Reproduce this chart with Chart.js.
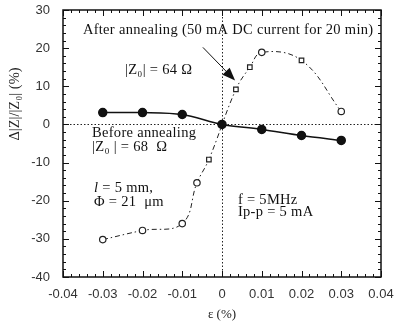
<!DOCTYPE html>
<html>
<head>
<meta charset="utf-8">
<script src="https://cdn.jsdelivr.net/npm/chart.js@4/dist/chart.umd.min.js"></script>
<style>
html,body{margin:0;padding:0;background:#fff;}
#wrap{width:400px;height:322px;}
</style>
</head>
<body>
<div id="wrap"><canvas id="c" width="400" height="322"></canvas></div>
<script>
// ---- data ----
const strainBefore = [-0.03, -0.02, -0.01, 0, 0.01, 0.02, 0.03];
const zBefore      = [3.1, 3.1, 2.6, 0, -1.3, -2.9, -4.2];

const strainAfter  = [-0.03, -0.02, -0.01, -0.0063, -0.0033, 0.0035, 0.007, 0.01, 0.02, 0.03];
const zAfter       = [-30.2, -27.8, -26.0, -15.3, -9.2, 9.2, 15.0, 18.9, 16.8, 3.4];
const markerAfter  = ['circle','circle','circle','circle','rect','rect','rect','circle','rect','circle'];

const xTickValues = [-0.04, -0.03, -0.02, -0.01, 0, 0.01, 0.02, 0.03, 0.04];
const xTickLabels = ['-0.04', '-0.03', '-0.02', '-0.01', '0', '0.01', '0.02', '0.03', '0.04'];
const yTickValues = [-40, -30, -20, -10, 0, 10, 20, 30];
const yTickLabels = ['-40', '-30', '-20', '-10', '0', '10', '20', '30'];

const notes = [
  {text: 'After annealing (50 mA DC current for 20 min)', x: -0.035, y: 24.7},
  {text: '|Z\u2080| = 64 \u03A9', x: -0.0244, y: 14.2},
  {text: 'Before annealing', x: -0.0327, y: -2.4},
  {text: '|Z\u2080 | = 68  \u03A9', x: -0.0327, y: -6.0},
  {text: 'l = 5 mm,', x: -0.0322, y: -16.8, italicFirst: true},
  {text: '\u03A6 = 21  \u03BCm', x: -0.0322, y: -20.5},
  {text: 'f = 5MHz', x: 0.004, y: -19.9},
  {text: 'Ip-p = 5 mA', x: 0.004, y: -23.1}
];
const arrowFrom = {x: -0.0048, y: 20.2};
const arrowTo   = {x: 0.0033, y: 11.5};

const yTitle = '\u0394|Z|/|Z\u2080| (%)';
const xTitle = '\u03B5 (%)';

const SERIF = '"Liberation Serif", "Times New Roman", serif';
const SANS = '"Liberation Sans", Arial, sans-serif';
const NOTE_FONT = '14.5px ' + SERIF;

const decor = {
  id: 'decor',
  beforeDatasetsDraw(chart) {
    const ctx = chart.ctx, xs = chart.scales.x, ys = chart.scales.y, a = chart.chartArea;
    ctx.save();
    ctx.strokeStyle = '#222';
    ctx.lineWidth = 1;
    ctx.setLineDash([1.5, 2]);
    const x0 = Math.round(xs.getPixelForValue(0)) + 0.5;
    const y0 = Math.round(ys.getPixelForValue(0)) + 0.5;
    ctx.beginPath(); ctx.moveTo(x0, a.top); ctx.lineTo(x0, a.bottom); ctx.stroke();
    ctx.beginPath(); ctx.moveTo(a.left, y0); ctx.lineTo(a.right, y0); ctx.stroke();
    ctx.setLineDash([]);
    ctx.restore();
  },
  afterDatasetsDraw(chart) {
    const ctx = chart.ctx, xs = chart.scales.x, ys = chart.scales.y, a = chart.chartArea;
    ctx.save();
    ctx.strokeStyle = '#111';
    ctx.lineWidth = 1.5;
    ctx.strokeRect(a.left, a.top, a.right - a.left, a.bottom - a.top);
    ctx.lineWidth = 1;
    ctx.beginPath();
    for (let i = 0; i < xTickValues.length; i++) {
      const v = xTickValues[i];
      const px = Math.round(xs.getPixelForValue(v)) + 0.5;
      ctx.moveTo(px, a.bottom); ctx.lineTo(px, a.bottom - 6);
      ctx.moveTo(px, a.top); ctx.lineTo(px, a.top + 6);
      if (i < xTickValues.length - 1) {
        const step = (xTickValues[i + 1] - v) / 5;
        for (let k = 1; k < 5; k++) {
          const mx = Math.round(xs.getPixelForValue(v + k * step)) + 0.5;
          ctx.moveTo(mx, a.bottom); ctx.lineTo(mx, a.bottom - 3);
          ctx.moveTo(mx, a.top); ctx.lineTo(mx, a.top + 3);
        }
      }
    }
    for (let i = 0; i < yTickValues.length; i++) {
      const v = yTickValues[i];
      const py = Math.round(ys.getPixelForValue(v)) + 0.5;
      ctx.moveTo(a.left, py); ctx.lineTo(a.left + 6, py);
      ctx.moveTo(a.right, py); ctx.lineTo(a.right - 6, py);
      if (i < yTickValues.length - 1) {
        const step = (yTickValues[i + 1] - v) / 5;
        for (let k = 1; k < 5; k++) {
          const my = Math.round(ys.getPixelForValue(v + k * step)) + 0.5;
          ctx.moveTo(a.left, my); ctx.lineTo(a.left + 3, my);
          ctx.moveTo(a.right, my); ctx.lineTo(a.right - 3, my);
        }
      }
    }
    ctx.stroke();

    // notes
    ctx.fillStyle = '#111';
    ctx.textBaseline = 'middle';
    ctx.textAlign = 'left';
    ctx.letterSpacing = '0.3px';
    for (const n of notes) {
      const px = xs.getPixelForValue(n.x), py = ys.getPixelForValue(n.y);
      ctx.font = NOTE_FONT;
      if (n.italicFirst) {
        ctx.font = 'italic ' + NOTE_FONT;
        const first = n.text[0];
        ctx.fillText(first, px, py);
        const w = ctx.measureText(first).width;
        ctx.font = NOTE_FONT;
        ctx.fillText(n.text.slice(1), px + w, py);
      } else {
        ctx.fillText(n.text, px, py);
      }
    }
    ctx.letterSpacing = '0px';

    // arrow
    const ax1 = xs.getPixelForValue(arrowFrom.x), ay1 = ys.getPixelForValue(arrowFrom.y);
    const ax2 = xs.getPixelForValue(arrowTo.x), ay2 = ys.getPixelForValue(arrowTo.y);
    const ang = Math.atan2(ay2 - ay1, ax2 - ax1);
    ctx.strokeStyle = '#111';
    ctx.lineWidth = 1;
    ctx.beginPath(); ctx.moveTo(ax1, ay1);
    ctx.lineTo(ax2 - 10 * Math.cos(ang), ay2 - 10 * Math.sin(ang)); ctx.stroke();
    ctx.beginPath();
    ctx.moveTo(ax2, ay2);
    ctx.lineTo(ax2 - 13 * Math.cos(ang) + 5 * Math.sin(ang), ay2 - 13 * Math.sin(ang) - 5 * Math.cos(ang));
    ctx.lineTo(ax2 - 13 * Math.cos(ang) - 5 * Math.sin(ang), ay2 - 13 * Math.sin(ang) + 5 * Math.cos(ang));
    ctx.closePath(); ctx.fill();

    // y title (rotated)
    ctx.save();
    ctx.translate(15, 104);
    ctx.rotate(-Math.PI / 2);
    ctx.textAlign = 'center';
    ctx.textBaseline = 'middle';
    ctx.font = '14.5px ' + SERIF;
    ctx.fillStyle = '#222';
    ctx.fillText(yTitle, 0, 0);
    ctx.restore();
    ctx.restore();
  }
};

new Chart(document.getElementById('c'), {
  type: 'scatter',
  data: {
    datasets: [
      {
        label: 'Before annealing',
        data: strainBefore.map((x, i) => ({x, y: zBefore[i]})),
        showLine: true,
        borderColor: '#111',
        borderWidth: 1.5,
        backgroundColor: '#111',
        pointBackgroundColor: '#111',
        pointBorderColor: '#111',
        pointRadius: 4,
        tension: 0.3,
        order: 1
      },
      {
        label: 'After annealing',
        data: strainAfter.map((x, i) => ({x, y: zAfter[i]})),
        showLine: true,
        borderColor: '#222',
        borderWidth: 1,
        borderDash: [5, 3, 1.5, 3],
        backgroundColor: '#fff',
        pointBackgroundColor: '#fff',
        pointBorderColor: '#222',
        pointBorderWidth: 1.2,
        pointRadius: 3.2,
        pointStyle: markerAfter,
        tension: 0.4,
        order: 2
      }
    ]
  },
  options: {
    responsive: false,
    animation: false,
    devicePixelRatio: 1,
    layout: {padding: {top: 10, right: 19, left: 0, bottom: 0}},
    plugins: {legend: {display: false}, tooltip: {enabled: false}},
    scales: {
      x: {
        type: 'linear',
        min: -0.04, max: 0.04,
        afterFit(s) { s.height = 45; s.paddingLeft = 0; s.paddingRight = 0; },
        afterBuildTicks(s) { s.ticks = xTickValues.map(v => ({value: v})); },
        grid: {display: false, drawTicks: false},
        border: {display: false},
        ticks: {
          padding: 10,
          color: '#333',
          font: {family: SANS, size: 13},
          maxRotation: 0,
          autoSkip: false,
          callback: (v, i) => xTickLabels[i]
        },
        title: {
          display: true,
          text: xTitle,
          color: '#222',
          font: {family: SERIF, size: 13},
          padding: {top: 2, bottom: 0}
        }
      },
      y: {
        type: 'linear',
        min: -40, max: 30,
        afterFit(s) { s.width = 63; s.paddingTop = 0; s.paddingBottom = 0; },
        afterBuildTicks(s) { s.ticks = yTickValues.map(v => ({value: v})); },
        grid: {display: false, drawTicks: false},
        border: {display: false},
        ticks: {
          padding: 13,
          color: '#333',
          font: {family: SANS, size: 13},
          autoSkip: false,
          callback: (v, i) => yTickLabels[i]
        }
      }
    }
  },
  plugins: [decor]
});
</script>
</body>
</html>
